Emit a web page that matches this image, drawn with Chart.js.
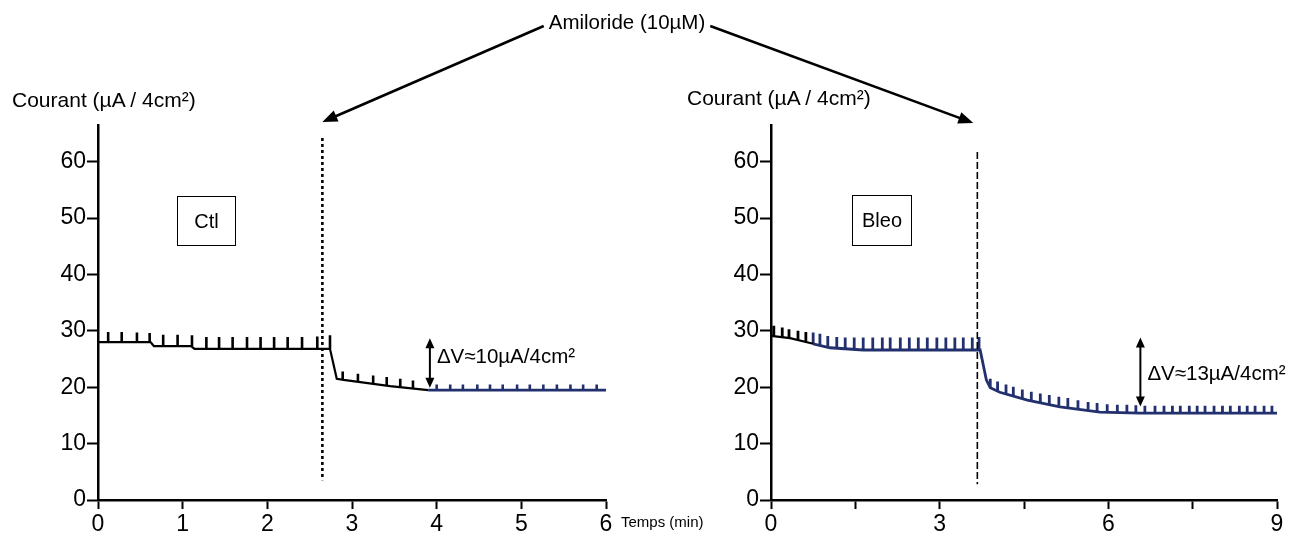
<!DOCTYPE html>
<html>
<head>
<meta charset="utf-8">
<script src="https://cdn.jsdelivr.net/npm/chart.js@4.4.1/dist/chart.umd.min.js"></script>
<style>
  body { margin: 0; background: #fff; width: 1307px; height: 555px; overflow: hidden; position: relative;
         font-family: "Liberation Sans Narrow", "Liberation Sans", Arial, sans-serif; color: #000; }
  canvas { position: absolute; top: 0; }
  #ctlCanvas { left: 0; }
  #bleoCanvas { left: 650px; }
  #overlay { left: 0; z-index: 5; pointer-events: none; }
  .txt { position: absolute; white-space: nowrap; line-height: 1; }
  .box { position: absolute; border: 1.5px solid #000; display: flex; align-items: center; justify-content: center;
         font-size: 20px; box-sizing: border-box; }
</style>
</head>
<body>
<canvas id="ctlCanvas" width="650" height="555"></canvas>
<canvas id="bleoCanvas" width="657" height="555"></canvas>
<canvas id="overlay" width="1307" height="555"></canvas>

<div class="txt" style="left:12px;top:89px;font-size:21px">Courant (µA / 4cm²)</div>
<div class="txt" style="left:687px;top:87px;font-size:21px">Courant (µA / 4cm²)</div>
<div class="box" style="left:177px;top:196px;width:59px;height:50px">Ctl</div>
<div class="box" style="left:852px;top:195px;width:60px;height:51px">Bleo</div>
<div class="txt" style="left:621px;top:514px;font-size:15px;font-family:'Liberation Sans',Arial,sans-serif">Temps (min)</div>

<script>
// ---- données ----
// Ctl : courant de base (µA / 4cm²) en fonction du temps (min)
const ctlTime = [0, 0.62, 0.66, 1.10, 1.14, 2.74, 2.82, 2.90, 3.45, 3.90];
const ctlCurrent = [28.0, 28.0, 27.3, 27.3, 26.8, 26.8, 21.5, 21.3, 20.2, 19.5];
const ctlTimeLate = [3.90, 6.0];
const ctlCurrentLate = [19.5, 19.5];

// impulsions (créneaux) du tracé Ctl
const ctlPulseTime = [0.12, 0.28, 0.46, 0.61, 0.77, 0.94, 1.11, 1.28, 1.43, 1.59, 1.76, 1.92, 2.08, 2.24, 2.41, 2.59, 2.74,
                      2.89, 3.07, 3.25, 3.41, 3.57, 3.72];
const ctlPulseLow = [28.0, 28.0, 28.0, 28.0, 27.3, 27.3, 27.3, 26.8, 26.8, 26.8, 26.8, 26.8, 26.8, 26.8, 26.8, 26.8, 26.8,
                     21.3, 21.0, 20.7, 20.4, 20.0, 19.8];
const ctlPulseHigh = [29.8, 29.8, 29.7, 29.6, 29.3, 29.3, 29.2, 28.9, 28.9, 28.9, 28.9, 28.9, 28.9, 28.9, 28.9, 29.0, 29.2,
                      22.8, 22.4, 22.1, 21.8, 21.5, 21.2];
const ctlPulseLateTime = [4.00, 4.16, 4.31, 4.48, 4.63, 4.78, 4.95, 5.10, 5.26, 5.42, 5.58, 5.73, 5.89];
const ctlPulseLateLow = [19.5, 19.5, 19.5, 19.5, 19.5, 19.5, 19.5, 19.5, 19.5, 19.5, 19.5, 19.5, 19.5];
const ctlPulseLateHigh = [20.5, 20.5, 20.5, 20.5, 20.5, 20.5, 20.5, 20.5, 20.5, 20.5, 20.5, 20.5, 20.5];

// Bleo
const bleoTime = [0, 0.34, 0.75];
const bleoCurrent = [29.1, 28.7, 27.7];
const bleoTimeLate = [0.75, 1.05, 1.64, 3.72, 3.83, 3.90, 4.07, 4.56, 5.14, 5.85, 6.57, 9.0];
const bleoCurrentLate = [27.7, 27.0, 26.6, 26.6, 21.3, 19.9, 19.1, 17.7, 16.5, 15.6, 15.4, 15.4];

const bleoPulseTime = [0.05, 0.20, 0.32, 0.48, 0.62];
const bleoPulseLow = [29.1, 28.9, 28.8, 28.4, 28.1];
const bleoPulseHigh = [30.9, 30.6, 30.3, 30.0, 29.8];
const bleoPulseLateTime = [0.75, 0.87, 1.01, 1.17, 1.32, 1.48, 1.64, 1.81, 1.98, 2.12, 2.30, 2.46, 2.62, 2.78, 2.95, 3.11,
                           3.27, 3.42, 3.58, 3.70,
                           3.90, 4.03, 4.18, 4.31, 4.47, 4.63, 4.79, 4.95, 5.12, 5.28, 5.46, 5.64, 5.80, 5.98, 6.16, 6.33,
                           6.49, 6.65, 6.83, 6.99, 7.14, 7.28, 7.44, 7.58, 7.72, 7.88, 8.03, 8.17, 8.33, 8.47, 8.61, 8.77, 8.91];
const bleoPulseLateLow = [27.7, 27.5, 27.1, 26.9, 26.7, 26.6, 26.6, 26.6, 26.6, 26.6, 26.6, 26.6, 26.6, 26.6, 26.6, 26.6,
                          26.6, 26.6, 26.6, 26.6,
                          19.9, 19.4, 18.9, 18.5, 18.0, 17.6, 17.3, 17.0, 16.7, 16.5, 16.3, 16.0, 15.8, 15.6, 15.5, 15.5,
                          15.4, 15.4, 15.4, 15.4, 15.4, 15.4, 15.4, 15.4, 15.4, 15.4, 15.4, 15.4, 15.4, 15.4, 15.4, 15.4, 15.4];
const bleoPulseLateHigh = [29.7, 29.5, 29.1, 28.9, 28.8, 28.8, 28.8, 28.8, 28.8, 28.8, 28.8, 28.8, 28.8, 28.8, 28.8, 28.8,
                           28.8, 28.8, 28.8, 28.9,
                           21.5, 21.0, 20.5, 20.1, 19.6, 19.2, 18.9, 18.6, 18.3, 18.1, 17.7, 17.4, 17.2, 17.0, 16.9, 16.9,
                           16.8, 16.7, 16.7, 16.7, 16.7, 16.7, 16.7, 16.7, 16.7, 16.7, 16.7, 16.7, 16.7, 16.7, 16.7, 16.7, 16.7];

// axes
const yTicks = [0, 10, 20, 30, 40, 50, 60];
const yMax = 66.5;
const ctlXTicks = [0, 1, 2, 3, 4, 5, 6];
const bleoXTicks = [0, 1.5, 3, 4.5, 6, 7.5, 9];
const bleoXLabels = [0, 3, 6, 9];

// annotations
const ctlAmiloride = 2.65;       // ajout d'amiloride (min)
const bleoAmiloride = 3.67;
const ctlDelta = [3.92, 28.7, 19.9];   // temps, haut, bas
const bleoDelta = [6.57, 28.8, 16.6];
const ctlDeltaText = "ΔV≈10µA/4cm²";
const bleoDeltaText = "ΔV≈13µA/4cm²";

const NAVY = "#22306e";
const FONT = "'Liberation Sans Narrow', 'Liberation Sans', Arial, sans-serif";

function points(xs, ys) {
    return xs.map((x, i) => ({ x: x, y: ys[i] }));
}

function pulses(ts, lows, highs) {
    const pts = [];
    ts.forEach((t, i) => {
        pts.push({ x: t, y: lows[i] }, { x: t, y: highs[i] }, { x: t, y: null });
    });
    return pts;
}

function traceSet(data, color, width) {
    return { data: data, borderColor: color, borderWidth: width, pointRadius: 0, tension: 0, spanGaps: false };
}

// ligne verticale (amiloride) + flèche ΔV
const marks = {
    id: 'marks',
    afterDatasetsDraw(chart, args, opts) {
        const ctx = chart.ctx;
        const x = chart.scales.x, y = chart.scales.y;
        ctx.save();
        ctx.strokeStyle = "#000";
        ctx.fillStyle = "#000";
        const xl = x.getPixelForValue(opts.amil);
        ctx.lineWidth = opts.amilWidth;
        ctx.setLineDash(opts.amilDash);
        ctx.beginPath();
        ctx.moveTo(xl, y.getPixelForValue(opts.amilTop));
        ctx.lineTo(xl, y.getPixelForValue(opts.amilBottom));
        ctx.stroke();
        ctx.setLineDash([]);

        const xa = x.getPixelForValue(opts.delta[0]);
        const y1 = y.getPixelForValue(opts.delta[1]);
        const y2 = y.getPixelForValue(opts.delta[2]);
        ctx.lineWidth = 2;
        ctx.beginPath();
        ctx.moveTo(xa, y1 + 8);
        ctx.lineTo(xa, y2 - 8);
        ctx.stroke();
        ctx.beginPath();
        ctx.moveTo(xa, y1); ctx.lineTo(xa - 4.5, y1 + 10); ctx.lineTo(xa + 4.5, y1 + 10); ctx.closePath();
        ctx.moveTo(xa, y2); ctx.lineTo(xa - 4.5, y2 - 10); ctx.lineTo(xa + 4.5, y2 - 10); ctx.closePath();
        ctx.fill();

        ctx.font = "20.5px " + FONT;
        ctx.textBaseline = "middle";
        ctx.fillText(opts.text, xa + 7, y.getPixelForValue(opts.textAt));
        ctx.restore();
    }
};

function makeChart(canvasId, cfg) {
    return new Chart(document.getElementById(canvasId), {
        type: 'line',
        data: { datasets: cfg.datasets },
        options: {
            responsive: false,
            animation: false,
            events: [],
            layout: { padding: { left: 0, right: cfg.padRight, top: 125, bottom: 0 } },
            plugins: { legend: { display: false }, tooltip: { enabled: false }, marks: cfg.marks },
            scales: {
                x: {
                    type: 'linear', min: 0, max: cfg.xMax,
                    afterBuildTicks: s => { s.ticks = cfg.xTicks.map(v => ({ value: v })); },
                    afterFit: s => { s.height = 55; },
                    ticks: {
                        color: "#000", padding: 2, maxRotation: 0, autoSkip: false,
                        font: { family: FONT, size: 23 },
                        callback: cfg.xLabel
                    },
                    grid: { drawOnChartArea: false, drawTicks: true, tickLength: 9, tickWidth: 2, tickColor: "#000", color: "#000" },
                    border: { display: true, color: "#000", width: 2.5 }
                },
                y: {
                    type: 'linear', min: 0, max: yMax,
                    afterBuildTicks: s => { s.ticks = yTicks.map(v => ({ value: v })); },
                    afterFit: s => { s.width = cfg.yWidth; },
                    ticks: { color: "#000", padding: 1, font: { family: FONT, size: 23 } },
                    grid: { drawOnChartArea: false, drawTicks: true, tickLength: 11, tickWidth: 2, tickColor: "#000", color: "#000" },
                    border: { display: true, color: "#000", width: 2.5 }
                }
            }
        },
        plugins: [marks]
    });
}

const ctlChart = makeChart('ctlCanvas', {
    padRight: 44, yWidth: 98, xMax: 6, xTicks: ctlXTicks,
    xLabel: v => String(v),
    datasets: [
        traceSet(points(ctlTime, ctlCurrent), "#000", 2.2),
        traceSet(points(ctlTimeLate, ctlCurrentLate), NAVY, 2.8),
        traceSet(pulses(ctlPulseTime, ctlPulseLow, ctlPulseHigh), "#000", 2.6),
        traceSet(pulses(ctlPulseLateTime, ctlPulseLateLow, ctlPulseLateHigh), NAVY, 2.6)
    ],
    marks: { amil: ctlAmiloride, amilTop: 64.2, amilBottom: 3.5, amilWidth: 2.6, amilDash: [3, 3],
             delta: ctlDelta, text: ctlDeltaText, textAt: 25.3 }
});

const bleoChart = makeChart('bleoCanvas', {
    padRight: 30, yWidth: 121, xMax: 9, xTicks: bleoXTicks,
    xLabel: v => (bleoXLabels.includes(v) ? String(v) : ''),
    datasets: [
        traceSet(points(bleoTime, bleoCurrent), "#000", 2.2),
        traceSet(points(bleoTimeLate, bleoCurrentLate), NAVY, 2.8),
        traceSet(pulses(bleoPulseTime, bleoPulseLow, bleoPulseHigh), "#000", 2.8),
        traceSet(pulses(bleoPulseLateTime, bleoPulseLateLow, bleoPulseLateHigh), NAVY, 2.8)
    ],
    marks: { amil: bleoAmiloride, amilTop: 61.7, amilBottom: 2.8, amilWidth: 1.6, amilDash: [7, 3],
             delta: bleoDelta, text: bleoDeltaText, textAt: 22.2 }
});

// "Amiloride (10µM)" et ses deux flèches vers les lignes verticales
function arrow(ctx, x0, y0, x1, y1) {
    const a = Math.atan2(y1 - y0, x1 - x0);
    const len = 15, half = 6;
    ctx.beginPath();
    ctx.moveTo(x0, y0);
    ctx.lineTo(x1 - Math.cos(a) * len * 0.8, y1 - Math.sin(a) * len * 0.8);
    ctx.stroke();
    ctx.beginPath();
    ctx.moveTo(x1, y1);
    ctx.lineTo(x1 - Math.cos(a) * len + Math.sin(a) * half, y1 - Math.sin(a) * len - Math.cos(a) * half);
    ctx.lineTo(x1 - Math.cos(a) * len - Math.sin(a) * half, y1 - Math.sin(a) * len + Math.cos(a) * half);
    ctx.closePath();
    ctx.fill();
}

(function drawOverlay() {
    const ctx = document.getElementById('overlay').getContext('2d');
    const label = "Amiloride (10µM)";
    ctx.font = "20.5px " + FONT;
    const w = ctx.measureText(label).width;
    const cx = 627, cy = 23;
    ctx.fillStyle = "#000";
    ctx.strokeStyle = "#000";
    ctx.lineWidth = 2.6;
    ctx.textAlign = "center";
    ctx.textBaseline = "middle";
    ctx.fillText(label, cx, cy);

    const lx = ctlChart.scales.x.getPixelForValue(ctlAmiloride);
    const ly = ctlChart.chartArea.top - 3;
    arrow(ctx, cx - w / 2 - 5, cy + 3, lx, ly);

    const rx = 650 + bleoChart.scales.x.getPixelForValue(bleoAmiloride) - 4;
    const ry = bleoChart.chartArea.top - 2;
    arrow(ctx, cx + w / 2 + 5, cy + 3, rx, ry);
})();
</script>
</body>
</html>
